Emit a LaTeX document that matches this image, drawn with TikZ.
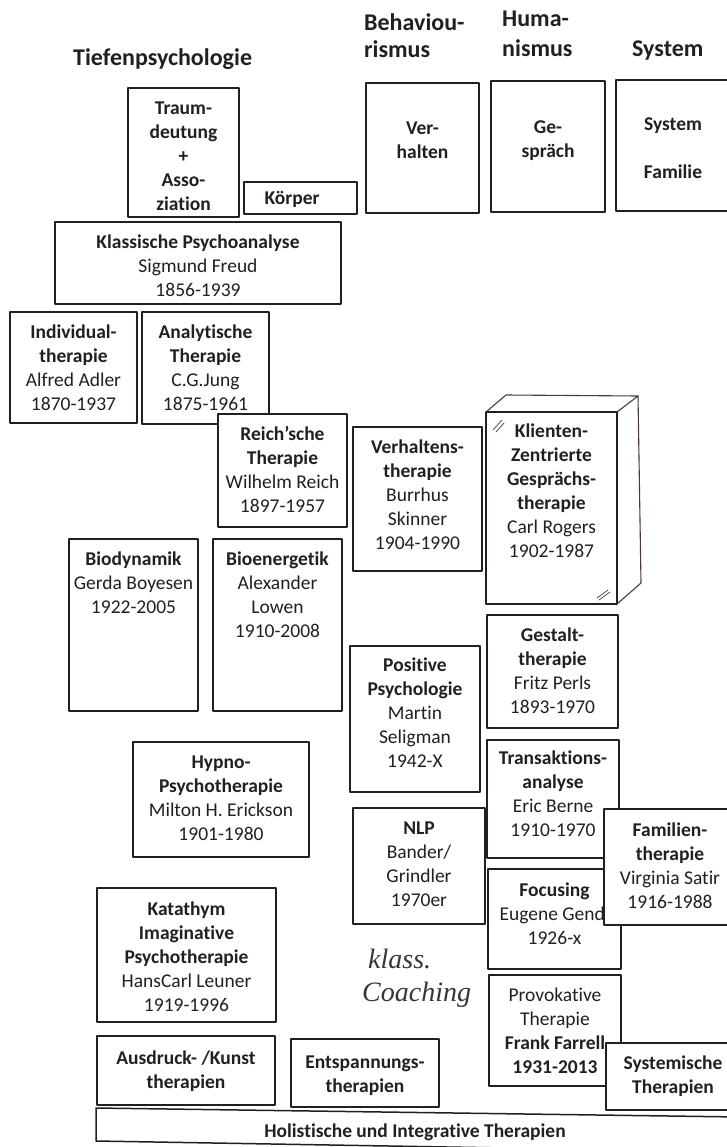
\documentclass[tikz,border=0pt]{standalone}
\usepackage{fontspec}
\setmainfont{Carlito}[Ligatures=NoCommon]
\newfontfamily\handschrift{Liberation Serif}

\definecolor{tinte}{HTML}{231F20}
\definecolor{bleistift}{HTML}{4E3A30}

\tikzset{
  rahmen/.style={draw=tinte, line width=1.5pt, fill=white},
  inhalt/.style={anchor=north, inner sep=0pt, align=center, text=tinte, font=\fontsize{19.5}{24}\selectfont},
  titel/.style={inhalt, font=\fontsize{19.5}{24}\selectfont\bfseries},
  kopf/.style={anchor=base west, inner sep=0pt, text=tinte, font=\fontsize{24}{29}\selectfont\bfseries},
  skizze/.style={draw=bleistift, line width=1.1pt},
}
% Stütze für die erste Zeile: Oberkante immer gleich
\newcommand{\zs}{\rule{0pt}{17pt}}

\begin{document}
\begin{tikzpicture}[x=1pt, y=-1pt, line cap=round, line join=round]
  \fill[white] (0,0) rectangle (727,1147);

  %% ════ 标题 ════
  \node[kopf] (tiefen) at (73,66) {Tiefenpsychologie};
  \node[kopf] (behavA) at (364,31) {Behaviou-};
  \node[kopf] (behavB) at (364,58) {rismus};
  \node[kopf] (humanA) at (502,27) {Huma-};
  \node[kopf] (humanB) at (502,57) {nismus};
  \node[kopf] (system) at (632,57) {System};

  %% ════ 第一行：方法 ════
  \draw[rahmen] (128,88) rectangle (239,217);
  \node[titel] (traum) at (183.5,97) {\zs Traum-\\deutung\\+\\Asso-\\ziation};
  \draw[rahmen] (244,182) rectangle (357,214);
  \node[titel] (koerper) at (292,187) {\zs Körper};
  \draw[rahmen] (366,83) rectangle (479,213);
  \node[titel] (verhalten) at (422.5,117) {\zs Ver-\\halten};
  \draw[rahmen] (491,81) rectangle (605,212);
  \node[titel] (gespraech) at (548,116) {\zs Ge-\\spräch};
  \draw[rahmen] (616,80) rectangle (740,211);
  \node[titel] (sysfam) at (673,113) {\zs System\\[24pt]Familie};

  %% ════ Tiefenpsychologie ════
  \draw[rahmen] (55,222) rectangle (341,304);
  \node[inhalt] (freud) at (198,231) {\zs\textbf{Klassische Psychoanalyse}\\Sigmund Freud\\1856-1939};
  \draw[rahmen] (10,312) rectangle (137,423);
  \node[inhalt] (adler) at (73.5,321) {\zs\textbf{Individual-}\\\textbf{therapie}\\Alfred Adler\\1870-1937};
  \draw[rahmen] (142,312) rectangle (269,424);
  \node[inhalt] (jung) at (205.5,321) {\zs\textbf{Analytische}\\\textbf{Therapie}\\C.G.Jung\\1875-1961};
  \draw[rahmen] (218,414) rectangle (347,527);
  \node[inhalt] (reich) at (282.5,423) {\zs\textbf{Reich’sche}\\\textbf{Therapie}\\Wilhelm Reich\\1897-1957};
  \draw[rahmen] (69,539) rectangle (198,711);
  \node[inhalt] (boyesen) at (133.5,548) {\zs\textbf{Biodynamik}\\Gerda Boyesen\\1922-2005};
  \draw[rahmen] (213,539) rectangle (342,711);
  \node[inhalt] (lowen) at (277.5,548) {\zs\textbf{Bioenergetik}\\Alexander\\Lowen\\1910-2008};
  \draw[rahmen] (133,742) rectangle (309,857);
  \node[inhalt] (erickson) at (221,751) {\zs\textbf{Hypno-}\\\textbf{Psychotherapie}\\Milton H. Erickson\\1901-1980};
  \draw[rahmen] (97,888) rectangle (276,1022);
  \node[inhalt] (leuner) at (186.5,898) {\zs\textbf{Katathym}\\\textbf{Imaginative}\\\textbf{Psychotherapie}\\HansCarl Leuner\\1919-1996};

  %% ════ Behaviourismus ════
  \draw[rahmen] (353,427) rectangle (482,571);
  \node[inhalt] (skinner) at (417.5,436) {\zs\textbf{Verhaltens-}\\\textbf{therapie}\\Burrhus\\Skinner\\1904-1990};
  \draw[rahmen] (350,646) rectangle (480,792);
  \node[inhalt] (seligman) at (415,654) {\zs\textbf{Positive}\\\textbf{Psychologie}\\Martin\\Seligman\\1942-X};
  \draw[rahmen] (353,808) rectangle (485,924);
  \node[inhalt] (nlp) at (419,817) {\zs\textbf{NLP}\\Bander/\\Grindler\\1970er};
  % handschriftlich eingeklebt
  \node[anchor=west, inner sep=0pt, align=left, text=tinte!90, font=\handschrift\itshape\fontsize{28}{33}\selectfont] (coaching) at (362,978) {\hspace*{6pt}klass.\\Coaching};

  %% ════ Humanismus ════
  \draw[rahmen] (486,412) rectangle (617,604);
  \node[inhalt] (rogers) at (551.5,420) {\zs\textbf{Klienten-}\\\textbf{Zentrierte}\\\textbf{Gesprächs-}\\\textbf{therapie}\\Carl Rogers\\1902-1987};
  % Bleistift-Quader
  \draw[skizze] (486,412) -- (506,395) -- (638,396) -- (617,412);
  \draw[skizze] (638,396) -- (641,583) -- (617,604);
  \draw[skizze, line width=0.7pt] (493,430) -- (502,420) (496,432) -- (504,423);
  \draw[skizze, line width=0.7pt] (597,598) -- (608,590) (599,600) -- (610,592);
  \draw[rahmen] (487,615) rectangle (618,728);
  \node[inhalt] (perls) at (552.5,624) {\zs\textbf{Gestalt-}\\\textbf{therapie}\\Fritz Perls\\1893-1970};
  \draw[rahmen] (487,740) rectangle (619,858);
  \node[inhalt] (berne) at (553,747) {\zs\textbf{Transaktions-}\\\textbf{analyse}\\Eric Berne\\1910-1970};
  \draw[rahmen] (488,869) rectangle (621,969);
  \node[inhalt] (gendlin) at (554.5,879) {\zs\textbf{Focusing}\\Eugene Gendl\hspace*{14pt}\\1926-x};
  \draw[rahmen] (489,975) rectangle (621,1086);
  \node[inhalt] (farrelly) at (555,984) {\zs Provokative\\Therapie\\\textbf{Frank Farrell}\hspace*{8pt}\\\textbf{1931-2013}};

  %% ════ System ════
  \draw[rahmen] (604,809) rectangle (740,925);
  \node[inhalt] (satir) at (670,819) {\zs\textbf{Familien-}\\\textbf{therapie}\\Virginia Satir\\1916-1988};
  \draw[rahmen] (606,1043) rectangle (740,1110);
  \node[titel] (systemisch) at (673,1052) {\zs Systemische\\Therapien};

  %% ════ unten ════
  \draw[rahmen] (97,1036) rectangle (275,1105);
  \node[titel] (kunst) at (186,1047) {\zs Ausdruck- /Kunst\\therapien};
  \draw[rahmen] (291,1039) rectangle (439,1107);
  \node[titel] (entspannung) at (365,1051) {\zs Entspannungs-\\therapien};
  \draw[rahmen] (740,1117) -- (96,1108) -- (96,1141) -- (740,1152);
  \node[titel] (holistisch) at (415,1120) {\zs Holistische und Integrative Therapien};

  % Seite festnageln
  \pgfresetboundingbox
  \path[use as bounding box] (0,0) rectangle (727,1147);
\end{tikzpicture}
\end{document}
